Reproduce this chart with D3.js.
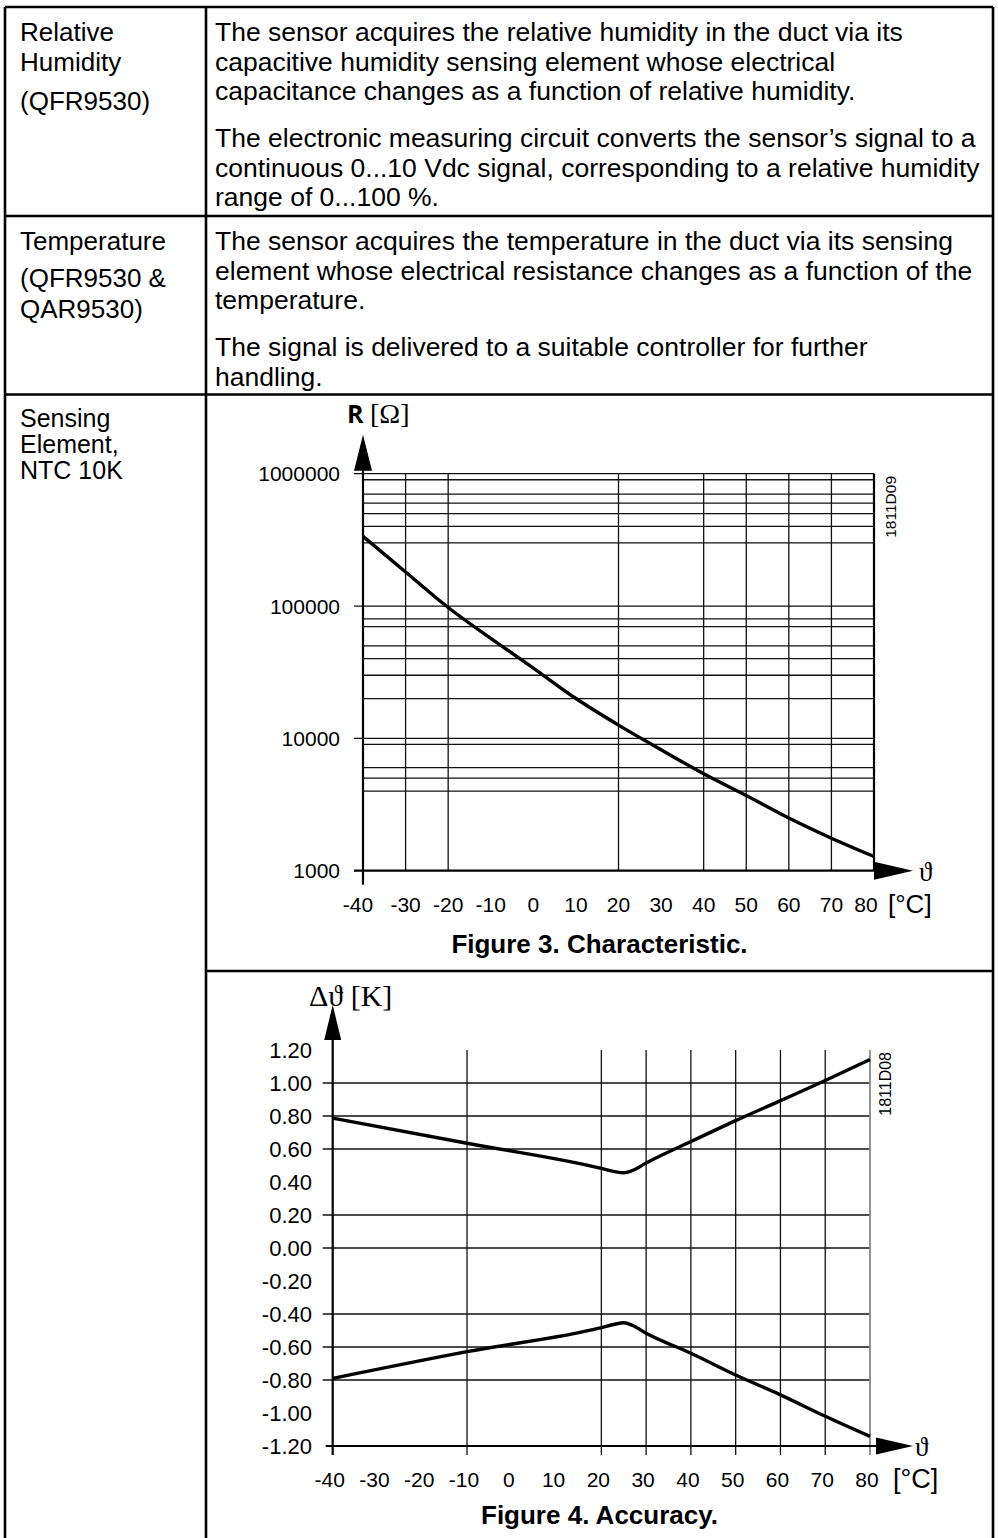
<!DOCTYPE html>
<html><head><meta charset="utf-8">
<script src="https://cdn.jsdelivr.net/npm/d3@7"></script>
<style>html,body{margin:0;padding:0;background:#fff}svg{display:block}</style>
</head><body>
<svg id="c" width="998" height="1538"></svg>
<script>
// ---------- data ----------
const tempTicks = [-40,-30,-20,-10,0,10,20,30,40,50,60,70,80];
// Figure 3: NTC 10K characteristic
const fig3GridTemps = [-30,-20,20,40,50,60,70,80];
const fig3MajorR = [1000,10000,100000,1000000];
const fig3MinorR = [4000,5000,6000,9000,20000,30000,40000,50000,70000,80000,300000,400000,500000,600000,700000,900000];
const ntcTemps = [-40,-30,-20,-10,0,10,20,30,40,50,60,70,80];
const ntcR = [336000,181000,97500,57000,34000,20000,12600,8200,5400,3700,2500,1760,1280];
// Figure 4: accuracy
const accTicks = [1.2,1.0,0.8,0.6,0.4,0.2,0.0,-0.2,-0.4,-0.6,-0.8,-1.0,-1.2];
const accGridVals = [1.0,0.8,0.6,0.2,0.0,-0.4,-0.6,-0.8];
const accGridTemps = [-10,20,30,40,50,60,70];
const accTemps = [-40,-10,20,23,25,27,30,40,50,60,70,80];
const accUpper = [0.787,0.635,0.483,0.463,0.456,0.470,0.515,0.645,0.772,0.893,1.015,1.142];
const accLower = [-0.790,-0.628,-0.483,-0.462,-0.453,-0.470,-0.517,-0.638,-0.770,-0.890,-1.020,-1.142];
// table text
const leftRow1 = ["Relative","Humidity","(QFR9530)"];
const leftRow2 = ["Temperature","(QFR9530 &","QAR9530)"];
const leftRow3 = ["Sensing","Element,","NTC 10K"];
const rightRow1 = ["The sensor acquires the relative humidity in the duct via its",
 "capacitive humidity sensing element whose electrical",
 "capacitance changes as a function of relative humidity.",
 "The electronic measuring circuit converts the sensor\u2019s signal to a",
 "continuous 0...10 Vdc signal, corresponding to a relative humidity",
 "range of 0...100 %."];
const rightRow2 = ["The sensor acquires the temperature in the duct via its sensing",
 "element whose electrical resistance changes as a function of the",
 "temperature.",
 "The signal is delivered to a suitable controller for further",
 "handling."];

// ---------- drawing ----------
const svg = d3.select("#c");
svg.append("rect").attr("width",998).attr("height",1538).attr("fill","#fff");
const SANS = "'Liberation Sans', Arial, sans-serif";
const SERIF = "'Liberation Serif', 'DejaVu Serif', serif";

// table
const T = svg.append("g").attr("stroke","#000").attr("stroke-width",2.6);
T.append("line").attr("x1",5).attr("x2",993).attr("y1",7).attr("y2",7);
T.append("line").attr("x1",5).attr("x2",5).attr("y1",7).attr("y2",1538);
T.append("line").attr("x1",993).attr("x2",993).attr("y1",7).attr("y2",1538);
T.append("line").attr("x1",206).attr("x2",206).attr("y1",7).attr("y2",1538);
T.append("line").attr("x1",5).attr("x2",993).attr("y1",216).attr("y2",216);
T.append("line").attr("x1",5).attr("x2",993).attr("y1",394.5).attr("y2",394.5);
T.append("line").attr("x1",206).attr("x2",993).attr("y1",971).attr("y2",971);

function lines(arr, x, ys, fs){
  arr.forEach((t,i)=>svg.append("text").attr("x",x).attr("y",ys[i])
    .attr("font-family",SANS).attr("font-size",fs).attr("fill","#000").text(t));
}
lines(leftRow1, 20, [41,70.5,110], 26);
lines(leftRow2, 20, [250,287,318], 26);
lines(leftRow3, 20, [427,453,479], 25);
lines(rightRow1, 215, [41,70.5,100,147,176.5,206], 26.5);
lines(rightRow2, 215, [250,279.5,309,356,385.5], 26.5);

// ---------- Figure 3 ----------
const x3 = d3.scaleLinear().domain([-40,80]).range([363,874]);
const y3 = d3.scaleLog().domain([1000,1e6]).range([870.7,473.7]);
const g3 = svg.append("g");
g3.selectAll(".mn").data(fig3MinorR).join("line")
  .attr("x1",x3(-40)).attr("x2",x3(80)).attr("y1",d=>y3(d)).attr("y2",d=>y3(d))
  .attr("stroke","#111").attr("stroke-width",1.3);
g3.selectAll(".mj").data(fig3MajorR.slice(1)).join("line")
  .attr("x1",x3(-40)-9).attr("x2",x3(80)).attr("y1",d=>y3(d)).attr("y2",d=>y3(d))
  .attr("stroke","#111").attr("stroke-width",1.3);
g3.selectAll(".vg").data(fig3GridTemps.slice(0,-1)).join("line")
  .attr("x1",d=>x3(d)).attr("x2",d=>x3(d)).attr("y1",y3(1e6)).attr("y2",y3(1000))
  .attr("stroke","#111").attr("stroke-width",1.3);
// right border
g3.append("line").attr("x1",x3(80)).attr("x2",x3(80)).attr("y1",y3(1e6)).attr("y2",y3(1000))
  .attr("stroke","#000").attr("stroke-width",2.2);
// axes
g3.append("line").attr("x1",x3(-40)-9).attr("x2",x3(80)+4).attr("y1",y3(1000)).attr("y2",y3(1000))
  .attr("stroke","#000").attr("stroke-width",2.2);
g3.append("line").attr("x1",x3(-40)).attr("x2",x3(-40)).attr("y1",y3(1000)+14).attr("y2",y3(1e6)-30)
  .attr("stroke","#000").attr("stroke-width",2.2);
// arrows
g3.append("path").attr("d",`M${x3(-40)-9},${y3(1e6)-3} L${x3(-40)+9},${y3(1e6)-3} L${x3(-40)},${y3(1e6)-39} Z`).attr("fill","#000");
g3.append("path").attr("d",`M${x3(80)},${y3(1000)-9} L${x3(80)},${y3(1000)+9} L${x3(80)+39},${y3(1000)} Z`).attr("fill","#000");
// curve
const line3 = d3.line().x((d,i)=>x3(ntcTemps[i])).y(d=>y3(d)).curve(d3.curveMonotoneX);
g3.append("path").attr("d",line3(ntcR)).attr("fill","none").attr("stroke","#000").attr("stroke-width",3.4);
// y labels
g3.selectAll(".yl").data(fig3MajorR).join("text")
  .attr("x",340).attr("y",d=>y3(d)).attr("dy","0.36em").attr("text-anchor","end")
  .attr("font-family",SANS).attr("font-size",21).text(d=>d3.format("d")(d));
// x labels
g3.selectAll(".xl").data(tempTicks).join("text")
  .attr("x",d=>x3(d)-(d===80?8:d===-40?5:0)).attr("y",911.5).attr("text-anchor","middle")
  .attr("font-family",SANS).attr("font-size",21).text(d=>d);
g3.append("text").attr("x",888).attr("y",913).attr("font-family",SANS).attr("font-size",26).text("[°C]");
g3.append("text").attr("x",919).attr("y",881).attr("font-family",SERIF).attr("font-size",27).text("\u03D1");
// axis title
const t3 = g3.append("text").attr("x",347).attr("y",423);
t3.append("tspan").attr("font-family","'Open Sans', 'DejaVu Sans', sans-serif").attr("font-weight","bold").attr("font-size",25).text("R ");
t3.append("tspan").attr("font-family",SERIF).attr("font-size",28).text("[\u03A9]");
g3.append("text").attr("transform","translate(896,476) rotate(-90)").attr("text-anchor","end")
  .attr("font-family",SANS).attr("font-size",15.5).text("1811D09");
svg.append("text").attr("x",599.5).attr("y",953).attr("text-anchor","middle")
  .attr("font-family",SANS).attr("font-weight","bold").attr("font-size",26).text("Figure 3. Characteristic.");

// ---------- Figure 4 ----------
const x4 = d3.scaleLinear().domain([-40,80]).range([332.7,870]);
const y4 = d3.scaleLinear().domain([-1.2,1.2]).range([1446,1050]);
const g4 = svg.append("g");
g4.selectAll(".hg").data(accGridVals).join("line")
  .attr("x1",x4(-40)-10).attr("x2",x4(80)).attr("y1",d=>y4(d)).attr("y2",d=>y4(d))
  .attr("stroke","#111").attr("stroke-width",1.3);
g4.selectAll(".vg").data(accGridTemps).join("line")
  .attr("x1",d=>x4(d)).attr("x2",d=>x4(d)).attr("y1",y4(1.2)).attr("y2",y4(-1.2)+9)
  .attr("stroke","#111").attr("stroke-width",1.3);
g4.append("line").attr("x1",x4(80)).attr("x2",x4(80)).attr("y1",y4(1.2)).attr("y2",y4(-1.2)+9)
  .attr("stroke","#888").attr("stroke-width",1.8);
g4.append("line").attr("x1",x4(-40)-7).attr("x2",x4(80)+6).attr("y1",y4(-1.2)).attr("y2",y4(-1.2))
  .attr("stroke","#000").attr("stroke-width",2.2);
g4.append("line").attr("x1",x4(-40)).attr("x2",x4(-40)).attr("y1",y4(-1.2)+9).attr("y2",y4(1.2)-12)
  .attr("stroke","#000").attr("stroke-width",2.2);
g4.append("path").attr("d",`M${x4(-40)-8.5},${y4(1.2)-10} L${x4(-40)+8.5},${y4(1.2)-10} L${x4(-40)},${y4(1.2)-45} Z`).attr("fill","#000");
g4.append("path").attr("d",`M${x4(80)+6},${y4(-1.2)-8.5} L${x4(80)+6},${y4(-1.2)+8.5} L${x4(80)+43},${y4(-1.2)} Z`).attr("fill","#000");
const line4 = vals => d3.line().x((d,i)=>x4(accTemps[i])).y(d=>y4(d)).curve(d3.curveMonotoneX)(vals);
g4.append("path").attr("d",line4(accUpper)).attr("fill","none").attr("stroke","#000").attr("stroke-width",3.4);
g4.append("path").attr("d",line4(accLower)).attr("fill","none").attr("stroke","#000").attr("stroke-width",3.4);
g4.selectAll(".yl").data(accTicks).join("text")
  .attr("x",312).attr("y",d=>y4(d)).attr("dy","0.36em").attr("text-anchor","end")
  .attr("font-family",SANS).attr("font-size",22).text(d=>d3.format(".2f")(d).replace("\u2212","-"));
g4.selectAll(".xl").data(tempTicks).join("text")
  .attr("x",d=>x4(d)-3).attr("y",1487).attr("text-anchor","middle")
  .attr("font-family",SANS).attr("font-size",21).text(d=>d);
g4.append("text").attr("x",893).attr("y",1488).attr("font-family",SANS).attr("font-size",27).text("[°C]");
g4.append("text").attr("x",915).attr("y",1456).attr("font-family",SERIF).attr("font-size",27).text("\u03D1");
g4.append("text").attr("x",309).attr("y",1006).attr("font-family",SERIF).attr("font-size",30).text("\u0394\u03D1 [K]");
g4.append("text").attr("transform","translate(891,1052) rotate(-90)").attr("text-anchor","end")
  .attr("font-family",SANS).attr("font-size",16).text("1811D08");
svg.append("text").attr("x",599.5).attr("y",1524).attr("text-anchor","middle")
  .attr("font-family",SANS).attr("font-weight","bold").attr("font-size",26).text("Figure 4. Accuracy.");
</script>
</body></html>
